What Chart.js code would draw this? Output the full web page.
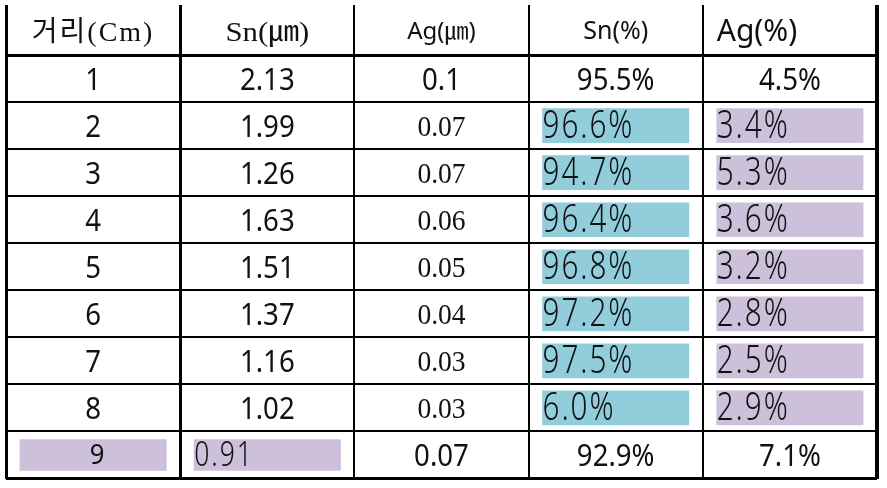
<!DOCTYPE html>
<html>
<head>
<meta charset="utf-8">
<script src="https://cdn.jsdelivr.net/npm/chart.js@4/dist/chart.umd.min.js"></script>
<style>
    html, body { margin: 0; padding: 0; background: #fff; }
    #contenedor { width: 887px; height: 488px; }
</style>
</head>
<body>
<div id="contenedor"><canvas id="tabla"></canvas></div>
<script>
// datos de la tabla
const encabezados = ['거리(Cm)', 'Sn(㎛)', 'Ag(㎛)', 'Sn(%)', 'Ag(%)'];
const distancias = ['1', '2', '3', '4', '5', '6', '7', '8', '9'];
const espesorSn = [2.13, 1.99, 1.26, 1.63, 1.51, 1.37, 1.16, 1.02, 0.91];
const espesorAg = [0.1, 0.07, 0.07, 0.06, 0.05, 0.04, 0.03, 0.03, 0.07];
const porcentajeSn = [95.5, 96.6, 94.7, 96.4, 96.8, 97.2, 97.5, 6.0, 92.9];
const porcentajeAg = [4.5, 3.4, 5.3, 3.6, 3.2, 2.8, 2.5, 2.9, 7.1];

// celdas resaltadas (fila 1..9)
const filasAzulSn = [2, 3, 4, 5, 6, 7, 8];
const filasMoradoAg = [2, 3, 4, 5, 6, 7, 8];
const columnasMoradoFila9 = [0, 1];
const filaFinal = 9;

const AZUL = '#92CDDC';
const MORADO = '#CCC0DA';
const MARGEN = 0.08;          // hueco del resaltado dentro de la celda
const ALTO_ENCABEZADO = 50 / 47;

const filas = distancias.map((d, i) => [
    d,
    espesorSn[i].toFixed(2),
    String(espesorAg[i]),
    porcentajeSn[i].toFixed(1) + '%',
    porcentajeAg[i].toFixed(1) + '%'
]);

const SANS = '"Noto Sans", "Noto Sans CJK KR", sans-serif';
const SERIF = '"Liberation Serif", "Noto Sans CJK KR", serif';

const estilosEncabezado = [
    { font: '28px ' + SERIF, escala: 1, espacio: 2, baja: 11 },
    { font: '28px ' + SERIF, escala: 1.1, espacio: 0, baja: 11 },
    { font: '24px ' + SANS, escala: 1, espacio: 0, baja: 9 },
    { font: '25px ' + SANS, escala: 1, espacio: 0, baja: 9 },
    { font: '30px ' + SANS, escala: 1, espacio: 0, baja: 11, izq: true }
];

function estiloCelda(fila, col) {
    const azul = col === 3 && filasAzulSn.includes(fila);
    const morado = (col === 4 && filasMoradoAg.includes(fila)) ||
        (fila === filaFinal && columnasMoradoFila9.includes(col));
    if (fila === filaFinal && col === 0) {
        return { font: '27px ' + SANS, escala: 0.95, espacio: 0, baja: 9.5, dx: 4 };
    }
    if (azul || morado) {
        const final = fila === filaFinal;
        return {
            font: '300 ' + (final ? 34 : 38) + 'px ' + SANS,
            escala: 0.78,
            espacio: final ? 2.5 : 2.5,
            baja: final ? 11.5 : 12,
            izq: true
        };
    }
    if (col === 2 && fila !== 1 && fila !== filaFinal) {
        return { font: '29px ' + SERIF, escala: 0.95, espacio: 0, baja: 10 };
    }
    return { font: '30px ' + SANS, escala: 0.92, espacio: 0, baja: 11 };
}

function escribir(ctx, texto, x, y, e) {
    ctx.save();
    ctx.translate(x, y);
    ctx.scale(e.escala, 1);
    ctx.font = e.font;
    ctx.letterSpacing = e.espacio + 'px';
    ctx.textAlign = e.izq ? 'left' : 'center';
    ctx.textBaseline = 'alphabetic';
    ctx.fillStyle = '#111';
    ctx.fillText(texto, 0, 0);
    ctx.restore();
}

const textoTabla = {
    id: 'textoTabla',
    afterDatasetsDraw(chart) {
        const { ctx } = chart;
        const ex = chart.scales.x;
        const ey = chart.scales.y;

        encabezados.forEach((t, c) => {
            const e = estilosEncabezado[c];
            const x = e.izq ? ex.getPixelForValue(c + MARGEN) : ex.getPixelForValue(c + 0.5);
            const y = ey.getPixelForValue(-ALTO_ENCABEZADO / 2) + e.baja;
            escribir(ctx, t, x, y, e);
        });

        filas.forEach((valores, i) => {
            const fila = i + 1;
            valores.forEach((t, c) => {
                const e = estiloCelda(fila, c);
                const x = (e.izq ? ex.getPixelForValue(c + MARGEN) : ex.getPixelForValue(c + 0.5)) + (e.dx || 0);
                const y = ey.getPixelForValue(fila - 0.5) + e.baja;
                escribir(ctx, t, x, y, e);
            });
        });
    }
};

const grosorX = { 0: 3, 1: 3, 5: 4 };

new Chart(document.getElementById('tabla'), {
    type: 'bar',
    data: {
        datasets: [
            {
                data: filasAzulSn.map(f => ({ y: f - 0.5, x: [3 + MARGEN, 4 - MARGEN] })),
                backgroundColor: AZUL,
                barThickness: 34
            },
            {
                data: filasMoradoAg.map(f => ({ y: f - 0.5, x: [4 + MARGEN, 5 - MARGEN] })),
                backgroundColor: MORADO,
                barThickness: 34
            },
            {
                data: columnasMoradoFila9.map(c => ({ y: filaFinal - 0.5, x: [c + MARGEN, c + 1 - MARGEN] })),
                backgroundColor: MORADO,
                barThickness: 31
            }
        ]
    },
    options: {
        indexAxis: 'y',
        responsive: true,
        maintainAspectRatio: false,
        devicePixelRatio: 1,
        animation: false,
        grouped: false,
        layout: { padding: { left: 6, top: 5, right: 10, bottom: 9.5 } },
        plugins: {
            legend: { display: false },
            tooltip: { enabled: false }
        },
        scales: {
            x: {
                type: 'linear',
                min: 0,
                max: encabezados.length,
                ticks: { display: false, stepSize: 1 },
                border: { display: false },
                grid: {
                    color: '#000',
                    drawTicks: false,
                    lineWidth: ctx => grosorX[ctx.tick.value] || 2
                }
            },
            y: {
                type: 'linear',
                reverse: true,
                offset: false,
                min: -ALTO_ENCABEZADO,
                max: distancias.length,
                afterBuildTicks: escala => {
                    escala.ticks = [0, ...distancias.map((d, i) => i + 1)].map(v => ({ value: v }));
                },
                ticks: { display: false },
                border: { display: false },
                grid: {
                    offset: false,
                    color: '#000',
                    drawTicks: false,
                    lineWidth: ctx => (ctx.tick.value === 0 || ctx.tick.value === distancias.length) ? 3 : 2
                }
            }
        }
    },
    plugins: [textoTabla]
});
</script>
</body>
</html>
